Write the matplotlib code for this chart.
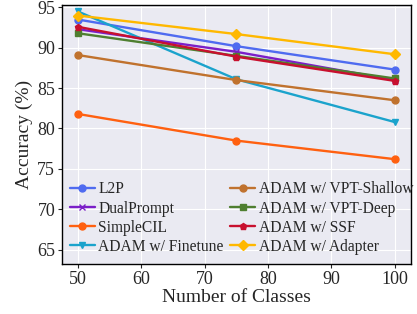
import matplotlib
matplotlib.use("Agg")
from matplotlib import pyplot as plt
import seaborn as sns

classes = [50, 75, 100]

methods = ["L2P", "DualPrompt", "SimpleCIL", "ADAM w/ Finetune",
           "ADAM w/ VPT-Shallow", "ADAM w/ VPT-Deep", "ADAM w/ SSF", "ADAM w/ Adapter"]

l2p = [93.5, 90.2, 87.3]
dualprompt = [92.3, 89.5, 86.0]
simplecil = [81.8, 78.5, 76.2]
finetune = [94.5, 86.1, 80.8]
vpt_shallow = [89.1, 86.0, 83.5]
vpt_deep = [91.8, 89.0, 86.2]
ssf = [92.6, 88.9, 85.9]
adapter = [94.0, 91.7, 89.2]

series = [l2p, dualprompt, simplecil, finetune, vpt_shallow, vpt_deep, ssf, adapter]
colors = ["#4F6BF0", "#7B1FC8", "#FF6010", "#1BA3CC",
          "#C0722E", "#4F7F30", "#C8102E", "#FFB800"]
markers = ["o", "x", "o", "v", "o", "s", "p", "D"]

sns.set_style("darkgrid")
plt.rcParams['font.family'] = ['Liberation Serif', 'DejaVu Serif']

fig = plt.figure(figsize=(4.17, 3.14), dpi=100)
ax = fig.add_axes([0.149, 0.159, 0.837, 0.825])

for name, vals, c, m in zip(methods, series, colors, markers):
    ax.plot(classes, vals, color=c, marker=m, markersize=5, linewidth=1.7, label=name)

ax.set_xlim(47.5, 102.6)
ax.set_ylim(63.2, 95.3)
ax.set_xticks([50, 60, 70, 80, 90, 100])
ax.set_yticks([65, 70, 75, 80, 85, 90, 95])
ax.tick_params(labelsize=13, length=3, left=True, bottom=True, pad=2)
ax.set_xlabel("Number of Classes", fontsize=14, labelpad=1)
ax.set_ylabel("Accuracy (%)", fontsize=14, labelpad=3)

for s in ax.spines.values():
    s.set_visible(True)
    s.set_color("black")
    s.set_linewidth(1.0)

ax.legend(ncol=2, loc="lower left", fontsize=11.2, frameon=False,
          handlelength=1.6, handletextpad=0.25, columnspacing=0.4,
          labelspacing=0.2, borderaxespad=0.2, bbox_to_anchor=(-0.005, 0.0))

fig.savefig("out.png", dpi=100)
